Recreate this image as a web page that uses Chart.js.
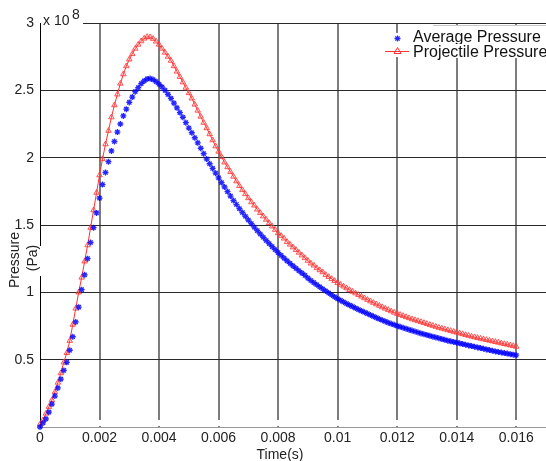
<!DOCTYPE html>
<html><head><meta charset="utf-8">
<script src="https://cdn.jsdelivr.net/npm/chart.js@4/dist/chart.umd.min.js"></script>
<style>html,body{margin:0;padding:0;background:#fff}#wrap{width:546px;height:461px}</style>
</head><body><div id="wrap"><canvas id="c" width="546" height="461"></canvas></div>
<script>
// sampling step of the time axis (s)
const timeStep = 0.0001;
// values in units of 1e8 Pa
const averagePressure = [
0.00,0.03,0.06,0.11,0.17,0.23,0.29,0.355,0.42,0.48,
0.57,0.67,0.78,0.89,1.02,1.13,1.25,1.37,1.48,1.59,
1.70,1.80,1.89,1.97,2.05,2.12,2.19,2.25,2.31,2.36,
2.41,2.45,2.49,2.52,2.55,2.57,2.585,2.587,2.58,2.565,
2.545,2.525,2.50,2.47,2.44,2.405,2.37,2.335,2.30,2.26,
2.22,2.185,2.148,2.11,2.07,2.03,1.99,1.955,1.92,1.885,
1.85,1.815,1.782,1.748,1.715,1.682,1.652,1.622,1.593,1.565,
1.537,1.51,1.484,1.458,1.433,1.409,1.385,1.362,1.339,1.317,
1.295,1.274,1.254,1.234,1.215,1.196,1.178,1.160,1.143,1.126,
1.105,1.088,1.072,1.056,1.040,1.025,1.010,0.995,0.980,0.966,
0.952,0.940,0.928,0.916,0.905,0.894,0.883,0.872,0.862,0.852,
0.842,0.832,0.822,0.812,0.802,0.793,0.784,0.775,0.767,0.759,
0.751,0.744,0.737,0.730,0.723,0.716,0.709,0.702,0.695,0.689,
0.683,0.677,0.671,0.665,0.659,0.653,0.647,0.641,0.636,0.631,
0.626,0.621,0.616,0.611,0.606,0.601,0.596,0.591,0.586,0.581,
0.576,0.571,0.566,0.561,0.557,0.553,0.549,0.545,0.541,0.537,
0.533];
const projectilePressure = [
0.02,0.05,0.10,0.15,0.20,0.26,0.33,0.40,0.48,0.55,
0.64,0.76,0.88,1.00,1.11,1.23,1.35,1.48,1.61,1.74,
1.87,1.99,2.10,2.20,2.30,2.39,2.47,2.55,2.62,2.68,
2.73,2.77,2.81,2.84,2.865,2.885,2.897,2.895,2.883,2.863,
2.84,2.81,2.78,2.75,2.72,2.68,2.64,2.60,2.56,2.52,
2.48,2.44,2.395,2.35,2.305,2.26,2.22,2.175,2.13,2.085,
2.045,2.005,1.965,1.93,1.895,1.86,1.825,1.79,1.76,1.73,
1.70,1.67,1.645,1.615,1.59,1.565,1.54,1.515,1.49,1.465,
1.44,1.42,1.40,1.375,1.355,1.335,1.315,1.295,1.275,1.255,
1.235,1.215,1.20,1.18,1.165,1.15,1.13,1.115,1.10,1.085,
1.07,1.057,1.044,1.031,1.018,1.005,0.993,0.981,0.969,0.957,
0.945,0.934,0.923,0.912,0.901,0.890,0.880,0.870,0.860,0.850,
0.841,0.833,0.825,0.817,0.809,0.801,0.794,0.787,0.780,0.773,
0.766,0.759,0.752,0.745,0.738,0.732,0.726,0.720,0.714,0.708,
0.702,0.696,0.690,0.684,0.678,0.672,0.667,0.662,0.657,0.652,
0.647,0.642,0.637,0.632,0.627,0.622,0.617,0.612,0.607,0.602,
0.597];
const xTicks = [0,0.002,0.004,0.006,0.008,0.01,0.012,0.014,0.016];
const xTickLabels = ['0','0.002','0.004','0.006','0.008','0.01','0.012','0.014','0.016'];
const yTicks = [0,0.5,1,1.5,2,2.5,3];
const yTickLabels = ['','0.5','1','1.5','2','2.5','3'];
const seriesNames = ['Average Pressure','Projectile Pressure'];
const xTitle = 'Time(s)';
const yTitleLines = ['Pressure','(Pa)'];
const exponentBase = 'x 10';
const exponentPower = '8';

const times = averagePressure.map((_, i) => +(i * timeStep).toFixed(4));
const FONT = '"Liberation Sans", Arial, sans-serif';

const decor = {
  id: 'decor',
  beforeDatasetsDraw(chart) {
    const ctx = chart.ctx, a = chart.chartArea, xs = chart.scales.x;
    ctx.save();
    ctx.fillStyle = '#ffffff';
    xTicks.forEach(v => { if (v === 0) return; const px = Math.round(xs.getPixelForValue(v)); ctx.fillRect(px - 1, a.bottom - 7, 2, 6); });
    ctx.restore();
  },
  afterDraw(chart) {
    const ctx = chart.ctx;
    ctx.save();
    // exponent label
    ctx.fillStyle = '#ffffff';
    ctx.fillRect(41, 10, 42, 16);
    ctx.fillStyle = '#222';
    ctx.font = '14px ' + FONT;
    ctx.textBaseline = 'middle';
    ctx.textAlign = 'left';
    ctx.fillText(exponentBase, 43, 21);
    ctx.fillText(exponentPower, 72, 15);
    // x title
    ctx.textAlign = 'center';
    ctx.fillText(xTitle, 280, 455);
    // y title
    ctx.save();
    ctx.translate(15, 260);
    ctx.rotate(-Math.PI / 2);
    ctx.fillText(yTitleLines[0], 0, 0);
    ctx.restore();
    ctx.fillStyle = '#ffffff';
    ctx.fillRect(27, 246, 15, 30);
    ctx.save();
    ctx.fillStyle = '#222';
    ctx.translate(33, 258);
    ctx.rotate(-Math.PI / 2);
    ctx.fillText(yTitleLines[1], 0, 0);
    ctx.restore();
    // legend
    ctx.fillStyle = '#ffffff';
    ctx.fillRect(384, 33, 162, 24);
    ctx.fillRect(410, 25, 136, 9);
    ctx.strokeStyle = '#c8c8c8';
    ctx.lineWidth = 1;
    ctx.beginPath(); ctx.moveTo(433, 25.5); ctx.lineTo(546, 25.5); ctx.stroke();
    // star marker
    ctx.strokeStyle = 'rgba(0,0,255,0.85)';
    ctx.lineWidth = 1.3;
    const sx = 397.5, sy = 38.5, r = 3;
    ctx.beginPath();
    for (let k = 0; k < 4; k++) {
      const ang = k * Math.PI / 4;
      ctx.moveTo(sx - r * Math.cos(ang), sy - r * Math.sin(ang));
      ctx.lineTo(sx + r * Math.cos(ang), sy + r * Math.sin(ang));
    }
    ctx.stroke();
    ctx.fillStyle = '#111';
    ctx.font = '16px ' + FONT;
    ctx.textAlign = 'left';
    ctx.textBaseline = 'alphabetic';
    ctx.fillText(seriesNames[0], 413, 42);
    // second row (covers descenders of the first)
    ctx.fillStyle = '#ffffff';
    ctx.fillRect(411, 44, 135, 14);
    ctx.strokeStyle = '#ff3333';
    ctx.lineWidth = 1;
    ctx.beginPath(); ctx.moveTo(385, 51.5); ctx.lineTo(409, 51.5); ctx.stroke();
    ctx.beginPath();
    ctx.moveTo(397.5, 47.5); ctx.lineTo(401, 53.5); ctx.lineTo(394, 53.5); ctx.closePath();
    ctx.stroke();
    ctx.fillStyle = '#111';
    ctx.fillText(seriesNames[1], 413, 57);
    ctx.restore();
  }
};

new Chart(document.getElementById('c'), {
  type: 'scatter',
  data: {
    datasets: [
      {
        label: seriesNames[0],
        data: times.map((t, i) => ({ x: t, y: averagePressure[i] })),
        showLine: false,
        pointStyle: 'star',
        pointRadius: 3,
        pointBorderColor: 'rgba(0,0,255,0.85)',
        pointBackgroundColor: 'rgba(0,0,255,0.85)',
        pointBorderWidth: 1.3,
        clip: false
      },
      {
        label: seriesNames[1],
        data: times.map((t, i) => ({ x: t, y: projectilePressure[i] })),
        showLine: true,
        borderColor: '#ff3030',
        borderWidth: 1,
        pointStyle: 'triangle',
        pointRadius: 3.2,
        pointBorderColor: 'rgba(255,50,50,0.8)',
        pointBackgroundColor: 'rgba(255,120,120,0.2)',
        pointBorderWidth: 1,
        clip: false
      }
    ]
  },
  options: {
    responsive: false,
    animation: false,
    devicePixelRatio: 1,
    layout: { autoPadding: false, padding: { top: 23, right: 0, bottom: 0, left: 0 } },
    plugins: { legend: { display: false }, tooltip: { enabled: false } },
    scales: {
      x: {
        type: 'linear', min: 0, max: 0.017,
        afterBuildTicks: s => { s.ticks = xTicks.map(v => ({ value: v })); },
        afterFit: s => { s.height = 34; s.paddingLeft = 0; s.paddingRight = 0; },
        ticks: {
          callback: (v, i) => xTickLabels[i] ?? '',
          font: { family: FONT, size: 14 }, color: '#222', padding: 3,
          maxRotation: 0, autoSkip: false
        },
        grid: {
          color: c => (c.tick && c.tick.value === 0) ? 'rgba(0,0,0,0)' : '#7d7d7d',
          lineWidth: 2, drawTicks: false
        },
        border: { color: '#9a9a9a', width: 1 }
      },
      y: {
        type: 'linear', min: 0, max: 3,
        afterBuildTicks: s => { s.ticks = yTicks.map(v => ({ value: v })); },
        afterFit: s => { s.width = 40; s.paddingTop = 0; s.paddingBottom = 0; },
        ticks: {
          callback: (v, i) => yTickLabels[i] ?? '',
          font: { family: FONT, size: 14 }, color: '#222', padding: 6,
          autoSkip: false
        },
        grid: {
          color: c => (c.tick && c.tick.value === 0) ? 'rgba(0,0,0,0)' : '#2a2a2a',
          lineWidth: 1, drawTicks: false
        },
        border: { color: '#000', width: 1 }
      }
    }
  },
  plugins: [decor]
});
</script>
</body></html>
